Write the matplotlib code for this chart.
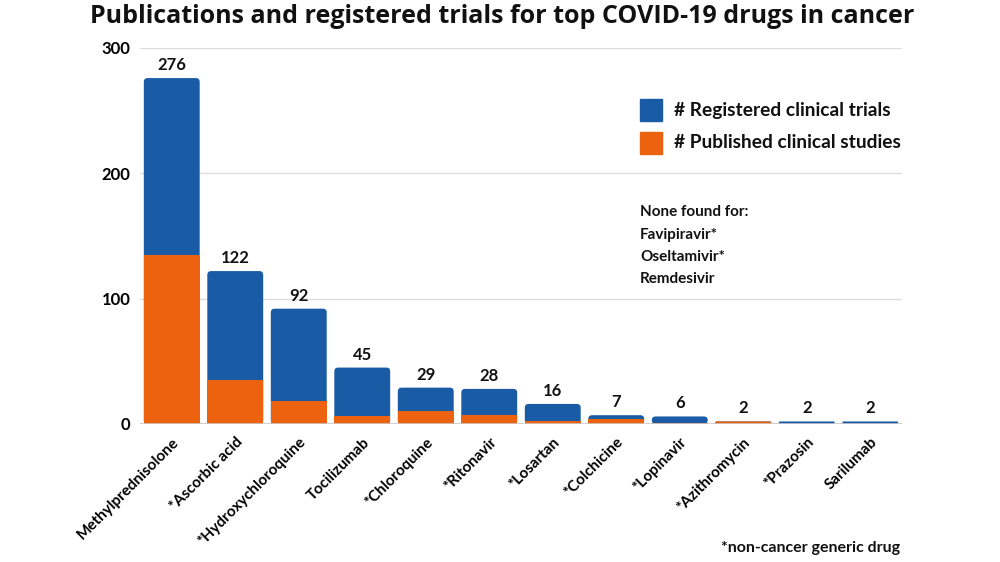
import numpy as np
import matplotlib.pyplot as plt
from matplotlib.patches import Rectangle, FancyBboxPatch

plt.rcParams['font.family'] = ['Lato', 'DejaVu Sans']
plt.rcParams['font.weight'] = 'bold'

drugs = ['Methylprednisolone', '*Ascorbic acid', '*Hydroxychloroquine', 'Tocilizumab',
         '*Chloroquine', '*Ritonavir', '*Losartan', '*Colchicine', '*Lopinavir',
         '*Azithromycin', '*Prazosin', 'Sarilumab']
totals = [276, 122, 92, 45, 29, 28, 16, 7, 6, 2, 2, 2]
published = [135, 35, 18, 6, 10, 7, 2, 4, 1, 2, 0, 0]

blue = '#1a5ba6'
orange = '#ec620f'
txt = '#111111'

fig = plt.figure(figsize=(10, 5.62), dpi=100)
ax = fig.add_axes([0.14, 0.2456, 0.762, 0.669])

x = np.arange(len(drugs))
w = 0.88
ax.set_xlim(-0.5, len(drugs) - 0.5)
ax.set_ylim(0, 300)

# data units per pixel ratio, for rounded corners
aspect = (300 / 376) / (12 / 762)


def round_bars(bars, color):
    for rect in bars:
        x0, y0 = rect.get_x(), rect.get_y()
        bw, bh = rect.get_width(), rect.get_height()
        if bh <= 0:
            continue
        r = min(0.06, bw / 2, bh / aspect / 2)
        p = FancyBboxPatch((x0, y0), bw, bh,
                           boxstyle=f'round,pad=0,rounding_size={r}',
                           mutation_aspect=aspect, facecolor=color,
                           edgecolor='none', zorder=rect.get_zorder())
        rect.remove()
        ax.add_patch(p)


# full bar in blue (rounded top), published part in orange on top
tot_bars = ax.bar(x, totals, width=w, color=blue, zorder=3)
round_bars(tot_bars, blue)
pub_bars = ax.bar(x, published, width=w, color=orange, zorder=3.5)
round_bars([b for b, p, t in zip(pub_bars, published, totals) if p == t], orange)

for xi, t in zip(x, totals):
    ax.text(xi, t + 4, str(t), ha='center', va='bottom', fontsize=12,
            fontweight='bold', color=txt)

ax.set_yticks([0, 100, 200, 300])
ax.yaxis.grid(True, color='#dddddd', linewidth=1, zorder=0)
ax.axhline(0, color='#c8c8c8', linewidth=1.2, zorder=4)
for s in ax.spines.values():
    s.set_visible(False)
ax.tick_params(axis='both', length=0)
ax.tick_params(axis='y', labelsize=12, pad=7)
ax.set_xticks(x)
ax.set_xticklabels(drugs, rotation=45, ha='right', rotation_mode='anchor',
                   fontsize=11, fontweight='bold')
ax.tick_params(axis='x', pad=8)
for lab in ax.get_yticklabels():
    lab.set_fontweight('bold')

fig.text(0.502, 0.97, 'Publications and registered trials for top COVID-19 drugs in cancer',
         ha='center', va='center', fontsize=18, fontweight='bold', color=txt,
         family=['Open Sans', 'DejaVu Sans'])

# legend
fig.patches.append(Rectangle((0.640, 0.784), 0.022, 0.039, transform=fig.transFigure,
                             color=blue))
fig.patches.append(Rectangle((0.640, 0.726), 0.022, 0.039, transform=fig.transFigure,
                             color=orange))
fig.text(0.674, 0.804, '# Registered clinical trials', ha='left', va='center',
         fontsize=13.8, fontweight='bold', color=txt)
fig.text(0.674, 0.746, '# Published clinical studies', ha='left', va='center',
         fontsize=13.8, fontweight='bold', color=txt)

note = ['None found for:', 'Favipiravir*', 'Oseltamivir*', 'Remdesivir']
for i, line in enumerate(note):
    fig.text(0.640, 0.622 - i * 0.0395, line, ha='left', va='center',
             fontsize=11, fontweight='bold', color=txt)

fig.text(0.900, 0.025, '*non-cancer generic drug', ha='right', va='center',
         fontsize=11.5, fontweight='bold', color=txt)

fig.savefig('out.png', dpi=100)
